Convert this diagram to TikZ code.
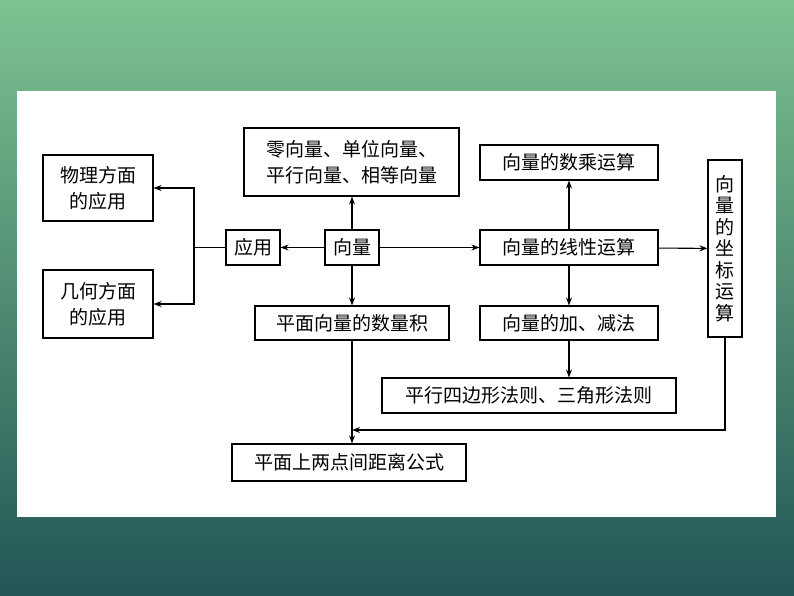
\documentclass[tikz,border=0pt]{standalone}
\usepackage{fontspec}
\setmainfont{Noto Sans CJK SC}
\usetikzlibrary{arrows.meta}
\begin{document}
\begin{tikzpicture}[x=1pt,y=-1pt,
 bx/.style={draw,line width=1.1pt,inner sep=0pt,font=\fontsize{19}{26}\selectfont,align=center},
 ar/.style={-{Stealth[length=8pt,width=6pt]},line width=1.1pt}]
\useasboundingbox (0,0) rectangle (794,596);
\shade[top color={rgb,255:red,125;green,195;blue,145},bottom color={rgb,255:red,35;green,85;blue,85}] (0,0) rectangle (794,596);
\fill[white] (17,91) rectangle (776,517);
\def\B#1#2#3#4#5#6{\node[bx,minimum width=#4-#2,minimum height=#5-#3] (#1) at ({(#2+#4)/2},{(#3+#5)/2}) {#6};}
\B{wl}{43}{155}{153}{221}{物理方面\\的应用}
\B{jh}{43}{270}{153}{338}{几何方面\\的应用}
\B{ling}{244}{128}{459}{196}{零向量、单位向量、\\平行向量、相等向量}
\B{yy}{226}{230}{280}{265}{应用}
\B{xl}{325}{230}{379}{265}{向量}
\B{sl}{255}{306}{449}{340}{平面向量的数量积}
\B{sc}{480}{145}{658}{180}{向量的数乘运算}
\B{xx}{480}{230}{658}{265}{向量的线性运算}
\B{jj}{480}{306}{658}{340}{向量的加、减法}
\B{px}{382}{378}{676}{413}{平行四边形法则、三角形法则}
\node[bx,minimum width=34,minimum height=177,font=\fontsize{19}{21.5}\selectfont] (zb) at (725,248.5) {向\\量\\的\\坐\\标\\运\\算};
\B{ld}{232}{444}{466}{481}{平面上两点间距离公式}
\coordinate (j) at (194,247.5);
\draw[ar] (xl) -- (yy);
\draw[line width=1.1pt] (yy.west) -- (j);
\draw[ar] (j) |- (wl.east);
\draw[ar] (j) |- (jh.east);
\draw[ar] (xl) -- (xl|-ling.south);
\draw[ar] (xl) -- (xl|-sl.north);
\draw[ar] (xl) -- (xx);
\draw[ar] (xx) -- (sc);
\draw[ar] (xx) -- (jj);
\draw[ar] (xx) -- (zb);
\draw[ar] (jj.south) -- (jj.south|-px.north);
\draw[ar] (xl|-sl.south) -- (xl|-ld.north);
\coordinate (c) at (725,430);
\draw[ar] (zb.south) -- (c) -- (xl|-c);
\end{tikzpicture}
\end{document}
